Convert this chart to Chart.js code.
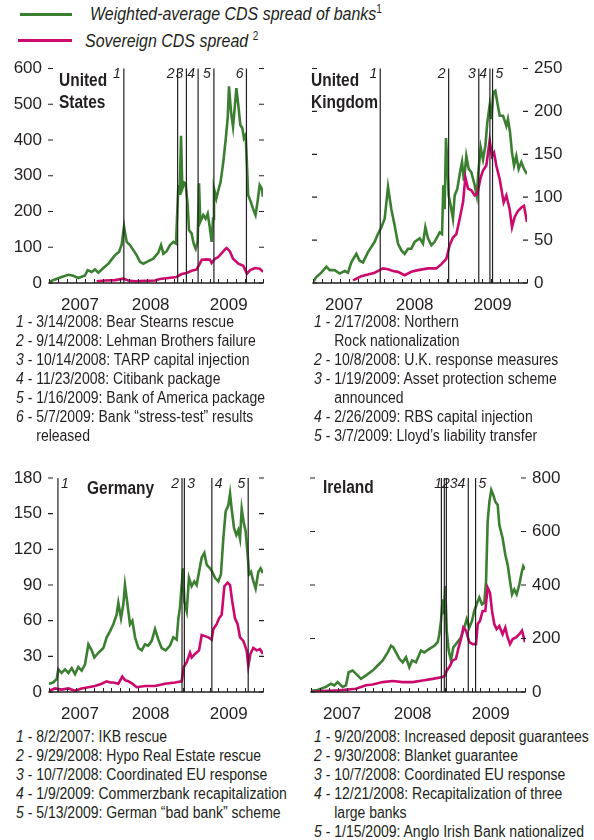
<!DOCTYPE html>
<html lang="en">
<head>
<meta charset="UTF-8">
<title>Bank and sovereign CDS spreads</title>
<script src="https://cdn.jsdelivr.net/npm/chart.js"></script>
<style>
  body { margin: 0; background: #fff; }
  #page { position: relative; width: 594px; height: 840px; overflow: hidden;
          font-family: 'Liberation Sans', Arial, sans-serif; color: #231f20; }
  canvas { position: absolute; }
  .swatch { position: absolute; height: 3px; }
  /* no condensed face installed, so squeeze the regular one */
  .legend { position: absolute; font-style: italic; font-size: 19px; line-height: 19px; white-space: nowrap;
            transform: scaleX(0.84); transform-origin: 0 0; }
  .legend sup { font-style: normal; font-size: 12px; vertical-align: 7px; line-height: 0; }
  .title { position: absolute; font-weight: bold; font-size: 18px; line-height: 21.5px;
           transform: scaleX(0.86); transform-origin: 0 0; }
  .notes { position: absolute; font-size: 16px; line-height: 19px; white-space: nowrap;
           transform: scaleX(0.875); transform-origin: 0 0; }
  .notes div { display: flex; }
</style>
</head>
<body>
<div id="page">
  <div class="swatch" style="left:20px;top:12.5px;width:52px;background:#3b7f31"></div>
  <div class="legend" style="left:90px;top:4px">Weighted-average CDS spread of banks<sup>1</sup></div>
  <div class="swatch" style="left:18px;top:39px;width:54px;background:#cc0a6d"></div>
  <div class="legend" style="left:85px;top:30.5px">Sovereign CDS spread <sup>2</sup></div>

  <canvas id="us" width="297" height="265" style="left:0;top:50px"></canvas>
  <canvas id="uk" width="297" height="265" style="left:297px;top:50px"></canvas>
  <canvas id="de" width="297" height="264" style="left:0;top:460px"></canvas>
  <canvas id="ie" width="297" height="264" style="left:297px;top:460px"></canvas>

  <div class="title" style="left:59px;top:70px">United<br>States</div>
  <div class="title" style="left:311px;top:70px">United<br>Kingdom</div>
  <div class="title" style="left:87px;top:478px">Germany</div>
  <div class="title" style="left:323px;top:477px">Ireland</div>

  <div class="notes" style="left:16px;top:312px">
    <div><span><i>1</i>&nbsp;-&nbsp;</span><span>3/14/2008: Bear Stearns rescue</span></div>
    <div><span><i>2</i>&nbsp;-&nbsp;</span><span>9/14/2008: Lehman Brothers failure</span></div>
    <div><span><i>3</i>&nbsp;-&nbsp;</span><span>10/14/2008: TARP capital injection</span></div>
    <div><span><i>4</i>&nbsp;-&nbsp;</span><span>11/23/2008: Citibank package</span></div>
    <div><span><i>5</i>&nbsp;-&nbsp;</span><span>1/16/2009: Bank of America package</span></div>
    <div><span><i>6</i>&nbsp;-&nbsp;</span><span>5/7/2009: Bank “stress-test” results<br>released</span></div>
  </div>
  <div class="notes" style="left:314px;top:312px">
    <div><span><i>1</i>&nbsp;-&nbsp;</span><span>2/17/2008: Northern<br>Rock nationalization</span></div>
    <div><span><i>2</i>&nbsp;-&nbsp;</span><span>10/8/2008: U.K. response measures</span></div>
    <div><span><i>3</i>&nbsp;-&nbsp;</span><span>1/19/2009: Asset protection scheme<br>announced</span></div>
    <div><span><i>4</i>&nbsp;-&nbsp;</span><span>2/26/2009: RBS capital injection</span></div>
    <div><span><i>5</i>&nbsp;-&nbsp;</span><span>3/7/2009: Lloyd’s liability transfer</span></div>
  </div>
  <div class="notes" style="left:16px;top:727px">
    <div><span><i>1</i>&nbsp;-&nbsp;</span><span>8/2/2007: IKB rescue</span></div>
    <div><span><i>2</i>&nbsp;-&nbsp;</span><span>9/29/2008: Hypo Real Estate rescue</span></div>
    <div><span><i>3</i>&nbsp;-&nbsp;</span><span>10/7/2008: Coordinated EU response</span></div>
    <div><span><i>4</i>&nbsp;-&nbsp;</span><span>1/9/2009: Commerzbank recapitalization</span></div>
    <div><span><i>5</i>&nbsp;-&nbsp;</span><span>5/13/2009: German “bad bank” scheme</span></div>
  </div>
  <div class="notes" style="left:314px;top:727px">
    <div><span><i>1</i>&nbsp;-&nbsp;</span><span>9/20/2008: Increased deposit guarantees</span></div>
    <div><span><i>2</i>&nbsp;-&nbsp;</span><span>9/30/2008: Blanket guarantee</span></div>
    <div><span><i>3</i>&nbsp;-&nbsp;</span><span>10/7/2008: Coordinated EU response</span></div>
    <div><span><i>4</i>&nbsp;-&nbsp;</span><span>12/21/2008: Recapitalization of three<br>large banks</span></div>
    <div><span><i>5</i>&nbsp;-&nbsp;</span><span>1/15/2009: Anglo Irish Bank nationalized</span></div>
  </div>
</div>

<script>
// x values are decimal years, spreads in basis points
const yearLabels = ['2007', '2008', '2009'];
const yearLabelAt = [2007.79, 2008.45, 2009.18];

// United States
const usBankT = [2007.500, 2007.556, 2007.618, 2007.681, 2007.727, 2007.774, 2007.836, 2007.861, 2007.899, 2007.930, 2007.961, 2008.008, 2008.055, 2008.086, 2008.117, 2008.154, 2008.179, 2008.201, 2008.226, 2008.257, 2008.288, 2008.319, 2008.350, 2008.382, 2008.428, 2008.475, 2008.522, 2008.547, 2008.569, 2008.600, 2008.631, 2008.662, 2008.687, 2008.709, 2008.721, 2008.734, 2008.746, 2008.765, 2008.777, 2008.796, 2008.808, 2008.833, 2008.852, 2008.871, 2008.889, 2008.902, 2008.914, 2008.942, 2008.964, 2008.983, 2009.002, 2009.020, 2009.033, 2009.042, 2009.064, 2009.083, 2009.104, 2009.129, 2009.151, 2009.170, 2009.182, 2009.201, 2009.220, 2009.238, 2009.251, 2009.269, 2009.288, 2009.307, 2009.322, 2009.338, 2009.349, 2009.361, 2009.386, 2009.411, 2009.430, 2009.449, 2009.469, 2009.488, 2009.500];
const usBankV = [3, 10, 17, 23, 20, 14, 21, 36, 31, 38, 29, 42, 54, 66, 78, 87, 107, 158, 115, 106, 92, 78, 59, 54, 61, 68, 85, 106, 82, 89, 106, 115, 110, 274, 246, 412, 264, 281, 279, 218, 148, 138, 110, 96, 115, 279, 171, 190, 180, 194, 157, 115, 180, 264, 236, 260, 283, 339, 400, 461, 550, 479, 437, 498, 545, 498, 442, 433, 405, 414, 339, 246, 227, 204, 190, 227, 274, 264, 241];
const usSovT = [2007.945, 2008.023, 2008.117, 2008.195, 2008.241, 2008.304, 2008.397, 2008.491, 2008.537, 2008.615, 2008.692, 2008.740, 2008.787, 2008.833, 2008.880, 2008.902, 2008.928, 2008.973, 2009.005, 2009.020, 2009.050, 2009.080, 2009.110, 2009.145, 2009.160, 2009.190, 2009.220, 2009.270, 2009.316, 2009.350, 2009.380, 2009.425, 2009.470, 2009.500];
const usSovV = [5, 7, 8, 12, 7, 5, 6, 7, 11, 14, 17, 25, 28, 34, 38, 50, 65, 66, 65, 56, 68, 72, 82, 94, 98, 89, 68, 54, 48, 26, 36, 42, 40, 31];
const usEvents = ['2008-03-14', '2008-09-14', '2008-10-14', '2008-11-23', '2009-01-16', '2009-05-07'];

// United Kingdom
const ukBankT = [2007.500, 2007.531, 2007.578, 2007.625, 2007.656, 2007.702, 2007.749, 2007.796, 2007.827, 2007.858, 2007.905, 2007.936, 2007.967, 2008.014, 2008.045, 2008.076, 2008.107, 2008.139, 2008.170, 2008.201, 2008.232, 2008.263, 2008.294, 2008.326, 2008.357, 2008.388, 2008.419, 2008.450, 2008.497, 2008.528, 2008.550, 2008.575, 2008.606, 2008.637, 2008.684, 2008.706, 2008.718, 2008.730, 2008.743, 2008.755, 2008.768, 2008.787, 2008.808, 2008.824, 2008.849, 2008.874, 2008.893, 2008.911, 2008.933, 2008.955, 2008.980, 2009.011, 2009.030, 2009.048, 2009.067, 2009.089, 2009.111, 2009.129, 2009.151, 2009.167, 2009.185, 2009.204, 2009.223, 2009.245, 2009.276, 2009.307, 2009.322, 2009.341, 2009.360, 2009.379, 2009.400, 2009.422, 2009.447, 2009.472, 2009.500];
const ukBankV = [1, 7, 12, 19, 15, 15, 11, 14, 12, 24, 34, 26, 24, 36, 42, 48, 57, 65, 75, 112, 86, 67, 46, 38, 34, 40, 40, 48, 52, 46, 65, 52, 44, 48, 59, 57, 114, 86, 169, 141, 102, 90, 75, 102, 110, 129, 141, 119, 148, 133, 129, 114, 102, 133, 158, 144, 160, 187, 207, 191, 222, 224, 210, 195, 195, 183, 191, 176, 152, 137, 148, 133, 141, 133, 127];
const ukSovT = [2007.874, 2007.952, 2008.014, 2008.076, 2008.123, 2008.154, 2008.201, 2008.248, 2008.294, 2008.357, 2008.419, 2008.481, 2008.575, 2008.653, 2008.700, 2008.746, 2008.777, 2008.808, 2008.840, 2008.871, 2008.902, 2008.924, 2008.949, 2008.980, 2009.011, 2009.036, 2009.067, 2009.089, 2009.120, 2009.151, 2009.173, 2009.192, 2009.213, 2009.245, 2009.260, 2009.282, 2009.307, 2009.338, 2009.360, 2009.385, 2009.416, 2009.447, 2009.472, 2009.500];
const ukSovV = [3, 8, 10, 12, 15, 17, 16, 14, 13, 9, 13, 15, 17, 17, 22, 28, 44, 53, 57, 75, 94, 123, 110, 108, 102, 104, 123, 131, 137, 166, 148, 152, 137, 121, 110, 94, 102, 86, 65, 77, 84, 88, 90, 71];
const ukEvents = ['2008-02-17', '2008-10-08', '2009-01-19', '2009-02-26', '2009-03-07'];

// Germany
const deBankT = [2007.500, 2007.540, 2007.572, 2007.587, 2007.618, 2007.650, 2007.681, 2007.712, 2007.743, 2007.774, 2007.805, 2007.836, 2007.868, 2007.899, 2007.924, 2007.961, 2008.008, 2008.039, 2008.070, 2008.101, 2008.132, 2008.148, 2008.173, 2008.195, 2008.210, 2008.226, 2008.257, 2008.279, 2008.304, 2008.335, 2008.366, 2008.397, 2008.428, 2008.460, 2008.491, 2008.522, 2008.553, 2008.590, 2008.631, 2008.662, 2008.693, 2008.709, 2008.724, 2008.740, 2008.752, 2008.765, 2008.787, 2008.808, 2008.833, 2008.858, 2008.880, 2008.902, 2008.927, 2008.952, 2008.974, 2009.005, 2009.026, 2009.051, 2009.083, 2009.107, 2009.129, 2009.151, 2009.176, 2009.192, 2009.207, 2009.229, 2009.251, 2009.269, 2009.285, 2009.301, 2009.319, 2009.338, 2009.357, 2009.370, 2009.388, 2009.407, 2009.431, 2009.456, 2009.478, 2009.500];
const deBankV = [7, 8, 11, 19, 16, 19, 16, 20, 15, 21, 18, 23, 40, 35, 29, 33, 37, 46, 51, 57, 65, 75, 62, 74, 90, 79, 57, 60, 46, 37, 35, 40, 39, 43, 53, 44, 37, 35, 39, 46, 44, 62, 71, 90, 104, 76, 68, 96, 89, 93, 90, 101, 113, 117, 107, 104, 101, 96, 93, 99, 129, 152, 157, 167, 154, 138, 132, 136, 129, 154, 143, 135, 115, 99, 101, 94, 87, 101, 104, 100];
const deSovT = [2007.500, 2007.556, 2007.618, 2007.681, 2007.743, 2007.805, 2007.868, 2007.930, 2007.992, 2008.039, 2008.070, 2008.101, 2008.148, 2008.185, 2008.210, 2008.241, 2008.279, 2008.319, 2008.397, 2008.491, 2008.584, 2008.678, 2008.740, 2008.759, 2008.787, 2008.818, 2008.833, 2008.864, 2008.902, 2008.927, 2008.958, 2008.989, 2009.020, 2009.036, 2009.067, 2009.089, 2009.114, 2009.139, 2009.170, 2009.192, 2009.213, 2009.238, 2009.263, 2009.285, 2009.316, 2009.347, 2009.363, 2009.382, 2009.410, 2009.441, 2009.472, 2009.500];
const deSovV = [1, 3, 2, 3, 1, 3, 4, 5, 7, 9, 8, 8, 7, 13, 10, 9, 7, 4, 5, 5, 7, 8, 9, 21, 25, 33, 29, 32, 35, 48, 47, 46, 44, 53, 57, 62, 65, 89, 92, 90, 76, 62, 57, 46, 43, 35, 22, 32, 37, 35, 36, 32];
const deEvents = ['2007-08-02', '2008-09-29', '2008-10-07', '2009-01-09', '2009-05-13'];

// Ireland
const ieBankT = [2007.500, 2007.547, 2007.593, 2007.640, 2007.687, 2007.718, 2007.749, 2007.796, 2007.827, 2007.852, 2007.889, 2007.921, 2007.967, 2008.014, 2008.076, 2008.123, 2008.170, 2008.217, 2008.248, 2008.269, 2008.294, 2008.326, 2008.357, 2008.388, 2008.419, 2008.444, 2008.481, 2008.528, 2008.559, 2008.606, 2008.653, 2008.684, 2008.699, 2008.715, 2008.730, 2008.743, 2008.755, 2008.768, 2008.787, 2008.808, 2008.830, 2008.855, 2008.880, 2008.902, 2008.933, 2008.955, 2008.980, 2009.005, 2009.026, 2009.048, 2009.073, 2009.098, 2009.120, 2009.136, 2009.151, 2009.167, 2009.185, 2009.204, 2009.223, 2009.245, 2009.260, 2009.291, 2009.316, 2009.338, 2009.360, 2009.379, 2009.400, 2009.422, 2009.447, 2009.472, 2009.484, 2009.500];
const ieBankV = [4, 6, 12, 19, 31, 25, 37, 19, 25, 74, 80, 68, 49, 62, 80, 99, 118, 148, 173, 167, 148, 124, 111, 130, 93, 118, 111, 155, 148, 161, 173, 186, 216, 266, 346, 291, 396, 229, 155, 118, 167, 179, 192, 204, 241, 272, 241, 266, 303, 328, 353, 328, 334, 414, 637, 711, 755, 736, 711, 699, 625, 575, 513, 476, 414, 365, 383, 365, 402, 452, 470, 458];
const ieSovT = [2007.500, 2007.609, 2007.765, 2007.921, 2008.014, 2008.076, 2008.170, 2008.263, 2008.357, 2008.450, 2008.544, 2008.637, 2008.730, 2008.755, 2008.768, 2008.793, 2008.824, 2008.855, 2008.880, 2008.902, 2008.924, 2008.949, 2008.980, 2009.011, 2009.042, 2009.058, 2009.079, 2009.104, 2009.129, 2009.151, 2009.173, 2009.192, 2009.213, 2009.235, 2009.260, 2009.291, 2009.316, 2009.338, 2009.360, 2009.385, 2009.416, 2009.447, 2009.472, 2009.500];
const ieSovV = [0, 4, 6, 12, 25, 28, 37, 41, 37, 37, 43, 49, 56, 62, 80, 93, 118, 124, 167, 198, 241, 229, 186, 179, 179, 254, 266, 303, 303, 390, 371, 303, 254, 235, 247, 216, 241, 204, 179, 198, 204, 216, 229, 186];
const ieEvents = ['2008-09-20', '2008-09-30', '2008-10-07', '2008-12-21', '2009-01-15'];

const GREEN = '#3b7f31', PINK = '#cc0a6d', INK = '#231f20';
const TICK_FONT = { family: "'Liberation Sans', Arial, sans-serif", size: 17 };

function decYear(s) {
  const [y, m, d] = s.split('-').map(Number);
  const start = Date.UTC(y, 0, 1), end = Date.UTC(y + 1, 0, 1);
  return y + (Date.UTC(y, m - 1, d) - start) / (end - start);
}
const pts = (t, v) => t.map((x, i) => ({ x, y: v[i] }));

// event lines, inner tick dashes and the monthly bottom axis
const panelDecor = {
  id: 'panelDecor',
  afterDatasetsDraw(chart, args, o) {
    const { ctx, chartArea: a, scales: { x, y } } = chart;
    ctx.save();
    ctx.strokeStyle = INK;
    ctx.lineWidth = 1.2;
    y.ticks.forEach(t => {
      const py = y.getPixelForValue(t.value);
      ctx.beginPath();
      ctx.moveTo(a.left - 1, py); ctx.lineTo(a.left + 4, py);
      ctx.moveTo(a.right - 4, py); ctx.lineTo(a.right + 1, py);
      ctx.stroke();
    });
    ctx.lineWidth = 1.5;
    ctx.beginPath(); ctx.moveTo(a.left, a.bottom); ctx.lineTo(a.right, a.bottom); ctx.stroke();
    ctx.lineWidth = 1;
    for (let k = 0; k <= 24; k++) {
      const px = Math.round(x.getPixelForValue(2007.5 + k / 12)) + 0.5;
      ctx.beginPath(); ctx.moveTo(px, a.bottom); ctx.lineTo(px, a.bottom - 4); ctx.stroke();
    }
    ctx.font = "italic 14px 'Liberation Sans', Arial, sans-serif";
    ctx.fillStyle = INK;
    o.events.forEach((d, i) => {
      const px = x.getPixelForValue(decYear(d));
      ctx.lineWidth = 1.2;
      ctx.beginPath(); ctx.moveTo(px, a.top); ctx.lineTo(px, a.bottom); ctx.stroke();
      const left = o.sides[i] === 'l';
      ctx.textAlign = left ? 'right' : 'left';
      ctx.fillText(o.tags[i], left ? px - 3 : px + 3, a.top + 9.5);
    });
    ctx.restore();
  }
};

function panel(id, p) {
  new Chart(document.getElementById(id), {
    type: 'line',
    data: {
      datasets: [
        { data: pts(p.sovT, p.sovV), borderColor: PINK, borderWidth: 2.6, pointRadius: 0, tension: 0 },
        { data: pts(p.bankT, p.bankV), borderColor: GREEN, borderWidth: 2.6, pointRadius: 0, tension: 0 }
      ]
    },
    options: {
      animation: false,
      responsive: false,
      layout: { padding: p.pad },
      plugins: {
        legend: { display: false },
        tooltip: { enabled: false },
        panelDecor: { events: p.events, tags: p.tags, sides: p.sides }
      },
      scales: {
        x: {
          type: 'linear', min: 2007.5, max: 2009.5,
          grid: { display: false, drawTicks: false }, border: { display: false },
          afterBuildTicks: s => { s.ticks = yearLabelAt.map(v => ({ value: v })); },
          afterFit: s => { s.height = p.xh; },
          ticks: { autoSkip: false, maxRotation: 0, padding: 12, color: INK, font: TICK_FONT,
                   callback: (v, i) => yearLabels[i] }
        },
        y: {
          position: p.side, min: 0, max: p.max,
          grid: { display: false, drawTicks: false }, border: { display: false },
          afterFit: s => { s.width = p.axisW; },
          ticks: { stepSize: p.step, padding: 7, color: INK, font: TICK_FONT }
        }
      }
    },
    plugins: [panelDecor]
  });
}

panel('us', { bankT: usBankT, bankV: usBankV, sovT: usSovT, sovV: usSovV, events: usEvents,
  tags: ['1', '2', '3', '4', '5', '6'], sides: ['l', 'l', 'l', 'l', 'l', 'l'],
  side: 'left', max: 600, step: 100, axisW: 49, xh: 32, pad: { top: 18.5, right: 34, left: 0, bottom: 0 } });
panel('uk', { bankT: ukBankT, bankV: ukBankV, sovT: ukSovT, sovV: ukSovV, events: ukEvents,
  tags: ['1', '2', '3', '4', '5'], sides: ['l', 'l', 'l', 'l', 'r'],
  side: 'right', max: 250, step: 50, axisW: 67, xh: 32, pad: { top: 18.5, right: 0, left: 16, bottom: 0 } });
panel('de', { bankT: deBankT, bankV: deBankV, sovT: deSovT, sovV: deSovV, events: deEvents,
  tags: ['1', '2', '3', '4', '5'], sides: ['r', 'l', 'r', 'r', 'l'],
  side: 'left', max: 180, step: 30, axisW: 49, xh: 32, pad: { top: 18, right: 34, left: 0, bottom: 0 } });
panel('ie', { bankT: ieBankT, bankV: ieBankV, sovT: ieSovT, sovV: ieSovV, events: ieEvents,
  tags: ['', '', '', '1234', '5'], sides: ['l', 'l', 'l', 'l', 'r'],
  side: 'right', max: 800, step: 200, axisW: 69, xh: 32, pad: { top: 18, right: 0, left: 14, bottom: 0 } });
</script>
</body>
</html>
